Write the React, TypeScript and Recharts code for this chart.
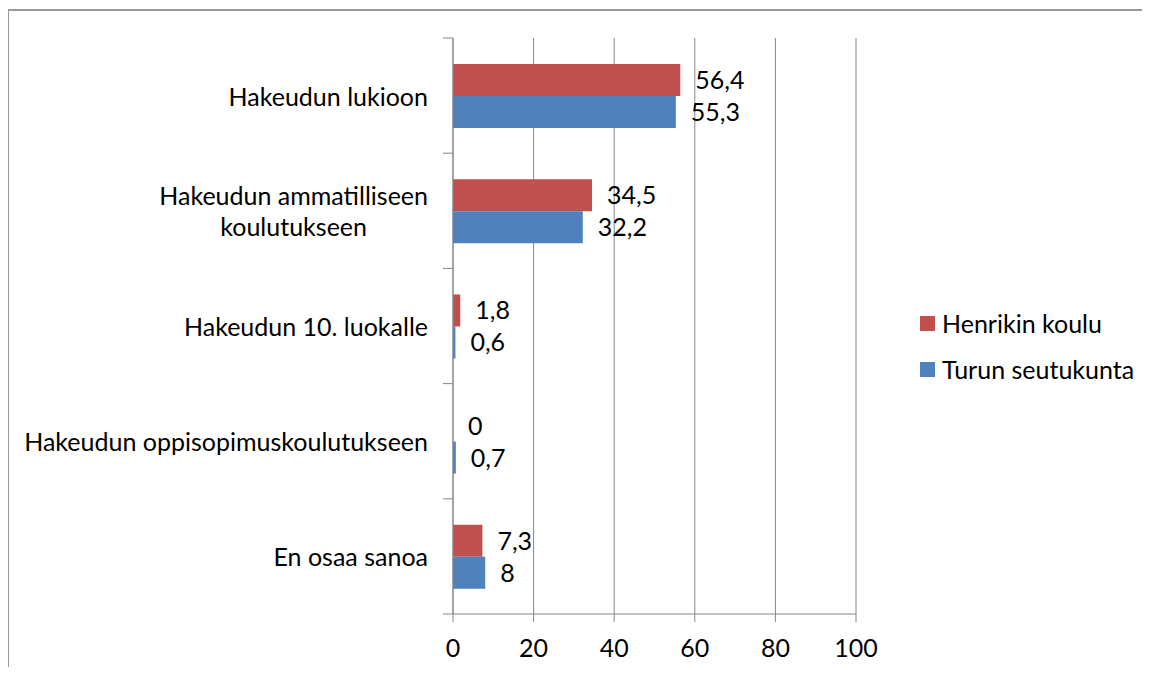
import React from 'react'
import { BarChart, Bar, XAxis, YAxis, CartesianGrid, Legend, LabelList } from 'recharts'

const categories = [
  'Hakeudun lukioon',
  'Hakeudun ammatilliseen\nkoulutukseen',
  'Hakeudun 10. luokalle',
  'Hakeudun oppisopimuskoulutukseen',
  'En osaa sanoa',
]
const henrikinKoulu = [56.4, 34.5, 1.8, 0, 7.3]
const turunSeutukunta = [55.3, 32.2, 0.6, 0.7, 8]
const xTicks = [0, 20, 40, 60, 80, 100]
const seriesNames = ['Henrikin koulu', 'Turun seutukunta']
const seriesColors = ['#C0504D', '#4F81BD']

const data = categories.map((c, i) => ({
  name: c,
  henrikin: henrikinKoulu[i],
  turun: turunSeutukunta[i],
}))

const FONT = 'Lato, "Open Sans", sans-serif'
const FONT_SIZE = 25
const AXIS = '#868686'
const BAND = (614 - 38) / categories.length

let ctx: CanvasRenderingContext2D | null = null
function textWidth(s: string) {
  if (!ctx) ctx = document.createElement('canvas').getContext('2d')
  if (!ctx) return s.length * 12
  ctx.font = `${FONT_SIZE}px ${FONT}`
  return ctx.measureText(s).width
}

const fmt = (v: any) => String(v).replace('.', ',')

function CategoryTick(props: any) {
  const { x, y, payload, index, visibleTicksCount } = props
  const axisX = x + 25
  const lines = String(payload.value).split('\n')
  const blockW = Math.max(...lines.map(textWidth))
  const cx = x - blockW / 2
  const lh = 31
  const y0 = y - ((lines.length - 1) * lh) / 2
  return (
    <g>
      <line x1={axisX - 10} x2={axisX} y1={y - BAND / 2} y2={y - BAND / 2} stroke={AXIS} />
      {index === visibleTicksCount - 1 && (
        <line x1={axisX - 10} x2={axisX} y1={y + BAND / 2} y2={y + BAND / 2} stroke={AXIS} />
      )}
      <text
        x={lines.length > 1 ? cx : x}
        y={y0}
        textAnchor={lines.length > 1 ? 'middle' : 'end'}
        dominantBaseline="central"
        fontFamily={FONT}
        fontSize={FONT_SIZE}
        fill="#000"
      >
        {lines.map((l, i) => (
          <tspan key={i} x={lines.length > 1 ? cx : x} dy={i === 0 ? 0 : lh}>
            {l}
          </tspan>
        ))}
      </text>
    </g>
  )
}

function LegendContent() {
  return (
    <div style={{ fontFamily: FONT, fontSize: FONT_SIZE, color: '#000' }}>
      {seriesNames.map((n, i) => (
        <div key={n} style={{ display: 'flex', alignItems: 'center', height: 46, whiteSpace: 'nowrap' }}>
          <span
            style={{ display: 'inline-block', width: 15, height: 15, background: seriesColors[i], marginRight: 7 }}
          />
          {n}
        </div>
      ))}
    </div>
  )
}

export default function App() {
  return (
    <div style={{ position: 'relative', width: 1150, height: 675, margin: -8, background: '#fff', overflow: 'hidden' }}>
      <div
        style={{
          position: 'absolute',
          left: 7,
          top: 9,
          width: 1200,
          height: 700,
          borderTop: '2px solid #999',
          borderLeft: '2px solid #999',
        }}
      />
      <BarChart
        layout="vertical"
        width={1150}
        height={675}
        data={data}
        margin={{ top: 38, right: 294, bottom: 21, left: 8 }}
        barCategoryGap="22.6%"
        barGap={0}
      >
        <CartesianGrid horizontal={false} stroke={AXIS} />
        <XAxis
          type="number"
          domain={[0, 100]}
          ticks={xTicks}
          height={40}
          axisLine={{ stroke: AXIS }}
          tickLine={{ stroke: AXIS }}
          tickSize={8}
          tickMargin={17}
          tick={{ fill: '#000', fontSize: FONT_SIZE, fontFamily: FONT }}
        />
        <YAxis
          type="category"
          dataKey="name"
          width={445}
          axisLine={{ stroke: AXIS }}
          tickLine={false}
          tickSize={0}
          tickMargin={25}
          interval={0}
          tick={<CategoryTick />}
        />
        <Legend
          layout="horizontal"
          align="center"
          verticalAlign="middle"
          wrapperStyle={{ left: 920, top: 300, width: 230 }}
          content={<LegendContent />}
        />
        <Bar
          dataKey="henrikin"
          name={seriesNames[0]}
          fill={seriesColors[0]}
          minPointSize={0.01}
          isAnimationActive={false}
        >
          <LabelList
            dataKey="henrikin"
            position="right"
            offset={15}
            formatter={fmt}
            style={{ fill: '#000', fontSize: FONT_SIZE, fontFamily: FONT }}
          />
        </Bar>
        <Bar dataKey="turun" name={seriesNames[1]} fill={seriesColors[1]} isAnimationActive={false}>
          <LabelList
            dataKey="turun"
            position="right"
            offset={15}
            formatter={fmt}
            style={{ fill: '#000', fontSize: FONT_SIZE, fontFamily: FONT }}
          />
        </Bar>
      </BarChart>
    </div>
  )
}
